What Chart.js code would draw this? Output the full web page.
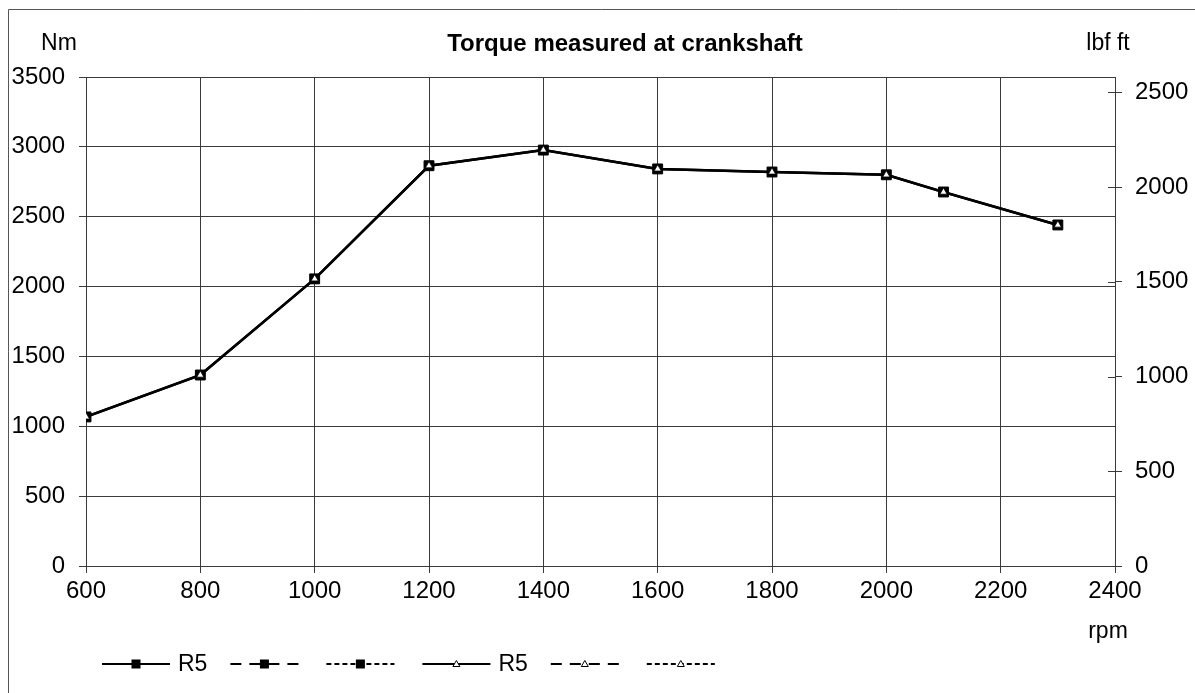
<!DOCTYPE html>
<html>
<head>
<meta charset="utf-8">
<script src="https://cdn.jsdelivr.net/npm/chart.js@4/dist/chart.umd.min.js"></script>
<style>
  html, body { margin: 0; padding: 0; background: #fff; }
  #wrap { width: 1195px; height: 693px; position: relative; }
</style>
</head>
<body>
<div id="wrap"><canvas id="torqueChart"></canvas></div>
<script>
// rpm values where torque was measured
const rpm = [600, 800, 1000, 1200, 1400, 1600, 1800, 2000, 2100, 2300];
// torque in Nm (left axis)
const torqueNm = [1067, 1367, 2055, 2865, 2977, 2842, 2820, 2800, 2677, 2441];
// same curve in lbf ft (right axis)
const torqueLbf = [787, 1008, 1516, 2113, 2196, 2096, 2080, 2065, 1974, 1800];
const nmTicks = [0, 500, 1000, 1500, 2000, 2500, 3000, 3500];
const lbfTicks = [0, 500, 1000, 1500, 2000, 2500];
const legendLabels = ['R5', '', '', 'R5', '', ''];

const FONT = "'Liberation Sans', Arial, sans-serif";
const ink = '#000';
const gridCol = '#3a3a3a';

function pts(ys) {
  return rpm.map((x, i) => ({ x: x, y: ys[i] }));
}

const squareStyle = { order: 2, pointStyle: 'rect', pointRadius: 7, pointBackgroundColor: ink, pointBorderColor: ink, pointBorderWidth: 1 };
const triStyle = { order: 1, pointStyle: 'triangle', pointRadius: 4.2, pointBackgroundColor: '#fff', pointBorderColor: ink, pointBorderWidth: 0.8 };

const datasets = [
  Object.assign({ label: legendLabels[0], data: pts(torqueNm), yAxisID: 'y', borderDash: [] }, squareStyle),
  Object.assign({ label: legendLabels[1], data: [], yAxisID: 'y', borderDash: [11, 8] }, squareStyle),
  Object.assign({ label: legendLabels[2], data: [], yAxisID: 'y', borderDash: [5, 3] }, squareStyle),
  Object.assign({ label: legendLabels[3], data: pts(torqueLbf), yAxisID: 'y2', borderDash: [] }, triStyle),
  Object.assign({ label: legendLabels[4], data: [], yAxisID: 'y2', borderDash: [11, 8] }, triStyle),
  Object.assign({ label: legendLabels[5], data: [], yAxisID: 'y2', borderDash: [5, 3] }, triStyle),
];
datasets.forEach(d => { d.borderColor = ink; d.borderWidth = 2.5; d.fill = false; d.tension = 0; });

// frame, axis unit texts, title and the bottom legend
const decorations = {
  id: 'decorations',
  beforeDraw(chart) {
    const c = chart.ctx;
    c.save();
    c.strokeStyle = '#555';
    c.lineWidth = 1;
    c.beginPath();
    c.moveTo(8.5, 693);
    c.lineTo(8.5, 9.5);
    c.lineTo(1195, 9.5);
    c.stroke();
    c.restore();
  },
  afterDraw(chart) {
    const c = chart.ctx;
    const area = chart.chartArea;
    c.save();
    c.fillStyle = ink;
    c.textBaseline = 'alphabetic';
    c.textAlign = 'center';
    c.font = 'bold 24px ' + FONT;
    c.fillText('Torque measured at crankshaft', 625, 51);
    c.font = '23px ' + FONT;
    c.fillText('Nm', 59, 50);
    c.fillText('lbf ft', 1108, 50);
    c.fillText('rpm', 1108, 638);

    // inner half of the right-axis ticks
    const y2 = chart.scales.y2;
    c.strokeStyle = gridCol;
    c.lineWidth = 1;
    y2.ticks.forEach(t => {
      const py = Math.round(y2.getPixelForValue(t.value)) + 0.5;
      c.beginPath();
      c.moveTo(area.right - 7, py);
      c.lineTo(area.right, py);
      c.stroke();
    });

    // legend
    let x = 102;
    const ly = 664;
    c.font = '23px ' + FONT;
    c.textAlign = 'left';
    c.textBaseline = 'middle';
    chart.data.datasets.forEach(ds => {
      const len = 68;
      c.strokeStyle = ink;
      c.lineWidth = 2;
      c.setLineDash(ds.borderDash);
      c.beginPath();
      c.moveTo(x, ly);
      c.lineTo(x + len, ly);
      c.stroke();
      c.setLineDash([]);
      const mx = x + len / 2;
      if (ds.pointStyle === 'rect') {
        c.fillStyle = ink;
        c.fillRect(mx - 4.5, ly - 4.5, 9, 9);
      } else {
        c.fillStyle = '#fff';
        c.lineWidth = 1;
        c.beginPath();
        c.moveTo(mx, ly - 3.5);
        c.lineTo(mx + 3.5, ly + 2.5);
        c.lineTo(mx - 3.5, ly + 2.5);
        c.closePath();
        c.fill();
        c.stroke();
      }
      x += len;
      if (ds.label) {
        c.fillStyle = ink;
        c.fillText(ds.label, x + 8, ly + 1);
        x += 8 + c.measureText(ds.label).width;
        x += 23;
      } else {
        x += 28;
      }
    });
    c.restore();
  }
};

const tickFont = { family: FONT, size: 24 };
const plain = v => String(v);

new Chart(document.getElementById('torqueChart'), {
  type: 'line',
  data: { datasets: datasets },
  options: {
    responsive: true,
    maintainAspectRatio: false,
    animation: false,
    layout: { padding: { left: 0, right: 0, top: 77, bottom: 67 } },
    plugins: { legend: { display: false }, tooltip: { enabled: false }, title: { display: false } },
    scales: {
      x: {
        type: 'linear',
        min: 600,
        max: 2400,
        ticks: { stepSize: 200, color: ink, font: tickFont, padding: 4, maxRotation: 0, callback: plain },
        grid: { color: gridCol, tickLength: 7, lineWidth: 1 },
        border: { color: gridCol },
        afterFit(s) { s.height = 60; }
      },
      y: {
        position: 'left',
        min: 0,
        max: 3500,
        afterBuildTicks(s) { s.ticks = nmTicks.map(v => ({ value: v })); },
        ticks: { color: ink, font: tickFont, padding: 14, callback: plain },
        grid: { color: gridCol, tickLength: 7, lineWidth: 1 },
        border: { color: gridCol },
        afterFit(s) { s.width = 86; }
      },
      y2: {
        position: 'right',
        min: 0,
        max: 2581.5,
        afterBuildTicks(s) { s.ticks = lbfTicks.map(v => ({ value: v })); },
        ticks: { color: ink, font: tickFont, padding: 13, callback: plain },
        grid: { drawOnChartArea: false, color: gridCol, tickLength: 7, lineWidth: 1 },
        border: { display: false },
        afterFit(s) { s.width = 80; }
      }
    }
  },
  plugins: [decorations]
});
</script>
</body>
</html>
